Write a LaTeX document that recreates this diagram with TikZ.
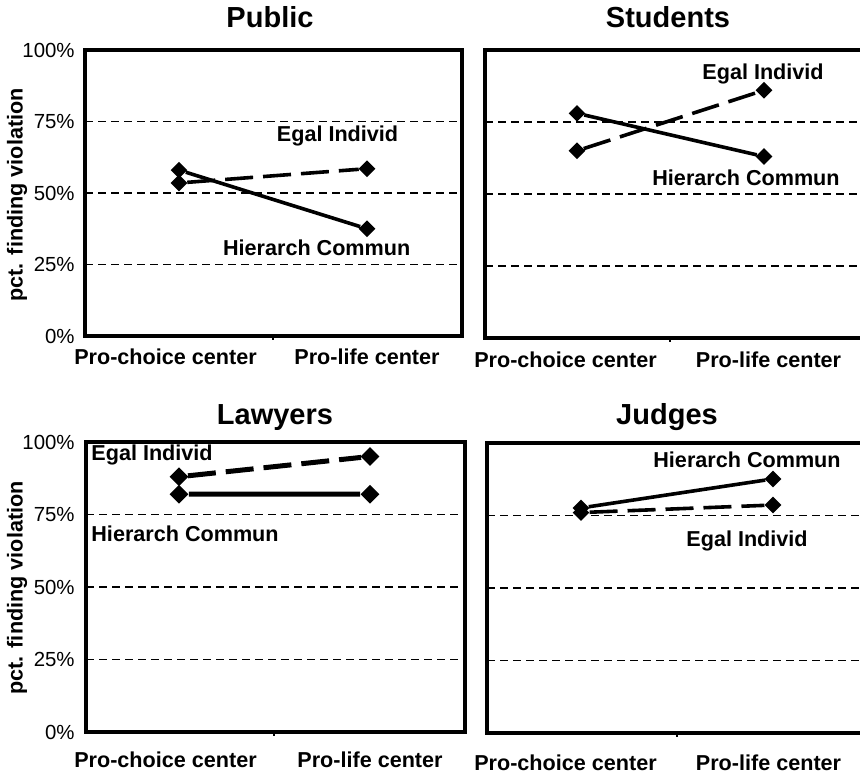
\documentclass[tikz,border=0pt]{standalone}
\usepackage{fontspec}
\setmainfont{Liberation Sans}
\usepackage{tikz}
\usetikzlibrary{shapes.geometric}

\begin{document}
\begin{tikzpicture}[x=0.5pt,y=0.5pt,
    frame/.style={line width=1.9pt},
    gridline/.style={line width=0.7pt,dash pattern=on 4pt off 2.5pt},
    datapt/.style={diamond,fill=black,inner sep=0pt,minimum size=8.5pt},
    hcline/.style={line width=1.8pt},
    eiline/.style={line width=1.8pt,dash pattern=on 14pt off 5pt},
    paneltitle/.style={font=\fontsize{14.5}{16}\selectfont\bfseries,anchor=base},
    lbl/.style={font=\fontsize{10.8}{12}\selectfont\bfseries,inner sep=0pt,anchor=base},
    ticklbl/.style={font=\fontsize{10.2}{11}\selectfont,anchor=east,inner sep=0pt}]
    \useasboundingbox (0,0) rectangle (860,776);

    % Titles and y axis titles
    \node[paneltitle] (t-pub) at (270,748) {Public};
    \node[paneltitle] (t-stu) at (668,748) {Students};
    \node[paneltitle] (t-law) at (275,351) {Lawyers};
    \node[paneltitle] (t-jud) at (667,351) {Judges};
    \node[lbl,anchor=center,rotate=90] (y-top) at (17,581) {pct. finding violation};
    \node[lbl,anchor=center,rotate=90] (y-bot) at (17,188) {pct. finding violation};

    % Public
    \begin{scope}[shift={(85,440)},yscale=2.86]
      \draw[frame] (0,0) rectangle (377,100);
      \foreach \p in {25,50,75} \draw[gridline] (0,\p) -- (377,\p);
      \draw[line width=0.6pt] (188,0) -- (188,-1.5);
      \foreach \p in {0,25,50,75,100} \node[ticklbl] at (-10,\p) {\p\%};
      \node[lbl] (pub-x1) at (80.5,-10.1) {Pro-choice center};
      \node[lbl] (pub-x2) at (282,-10.1) {Pro-life center};
      \node[datapt] (pub-hc1) at (94,58) {};
      \node[datapt] (pub-hc2) at (282,37.5) {};
      \node[datapt] (pub-ei1) at (94,53.5) {};
      \node[datapt] (pub-ei2) at (282,58.5) {};
      \draw[hcline] (pub-hc1) -- (pub-hc2);
      \draw[eiline] (pub-ei1) -- (pub-ei2);
      \node[lbl] (pub-ei) at (252.5,67.9) {Egal Individ};
      \node[lbl] (pub-hc) at (231.7,28) {Hierarch Commun};
    \end{scope}

    % Students
    \begin{scope}[shift={(485,438)},yscale=2.88]
      \draw[frame] (380,100) -- (0,100) -- (0,0) -- (380,0);
      \foreach \p in {25,50,75} \draw[gridline] (0,\p) -- (380,\p);
      \draw[line width=0.6pt] (185,0) -- (185,-1.5);
      \node[lbl] (stu-x1) at (80.5,-10.1) {Pro-choice center};
      \node[lbl] (stu-x2) at (283.5,-10.1) {Pro-life center};
      \node[datapt] (stu-hc1) at (92,78) {};
      \node[datapt] (stu-hc2) at (279,63) {};
      \node[datapt] (stu-ei1) at (92,65) {};
      \node[datapt] (stu-ei2) at (279,86) {};
      \draw[hcline] (stu-hc1) -- (stu-hc2);
      \draw[eiline] (stu-ei1) -- (stu-ei2);
      \node[lbl] (stu-ei) at (278,89.9) {Egal Individ};
      \node[lbl] (stu-hc) at (261,53.1) {Hierarch Commun};
    \end{scope}

    % Lawyers
    \begin{scope}[shift={(86,44)},yscale=2.9]
      \draw[frame] (0,0) rectangle (379,100);
      \foreach \p in {25,50,75} \draw[gridline] (0,\p) -- (379,\p);
      \draw[line width=0.6pt] (188,0) -- (188,-1.5);
      \foreach \p in {0,25,50,75,100} \node[ticklbl] at (-11,\p) {\p\%};
      \node[lbl] (law-x1) at (79.5,-12.4) {Pro-choice center};
      \node[lbl] (law-x2) at (284,-12.4) {Pro-life center};
      \node[datapt,minimum size=9.5pt] (law-hc1) at (93,82) {};
      \node[datapt,minimum size=9.5pt] (law-hc2) at (284,82) {};
      \node[datapt,minimum size=9.5pt] (law-ei1) at (93,88) {};
      \node[datapt,minimum size=9.5pt] (law-ei2) at (284,95) {};
      \draw[hcline,line width=2.5pt] (law-hc1) -- (law-hc2);
      \draw[eiline,line width=2.5pt] (law-ei1) -- (law-ei2);
      \node[lbl,anchor=base west] (law-ei) at (5,93.6) {Egal Individ};
      \node[lbl,anchor=base west] (law-hc) at (5,65.6) {Hierarch Commun};
    \end{scope}

    % Judges
    \begin{scope}[shift={(487,43)},yscale=2.9]
      \draw[frame] (380,100) -- (0,100) -- (0,0) -- (380,0);
      \foreach \p in {25,50,75} \draw[gridline] (0,\p) -- (380,\p);
      \draw[line width=0.6pt] (190,0) -- (190,-1.5);
      \node[lbl] (jud-x1) at (78.5,-12.8) {Pro-choice center};
      \node[lbl] (jud-x2) at (281.5,-12.8) {Pro-life center};
      \node[datapt] (jud-hc1) at (94,77.6) {};
      \node[datapt] (jud-hc2) at (286,87.6) {};
      \node[datapt] (jud-ei1) at (94,76) {};
      \node[datapt] (jud-ei2) at (286,78.6) {};
      \draw[hcline] (jud-hc1) -- (jud-hc2);
      \draw[eiline] (jud-ei1) -- (jud-ei2);
      \node[lbl] (jud-hc) at (260,91.6) {Hierarch Commun};
      \node[lbl] (jud-ei) at (260,64.2) {Egal Individ};
    \end{scope}
  \end{tikzpicture}
\end{document}
